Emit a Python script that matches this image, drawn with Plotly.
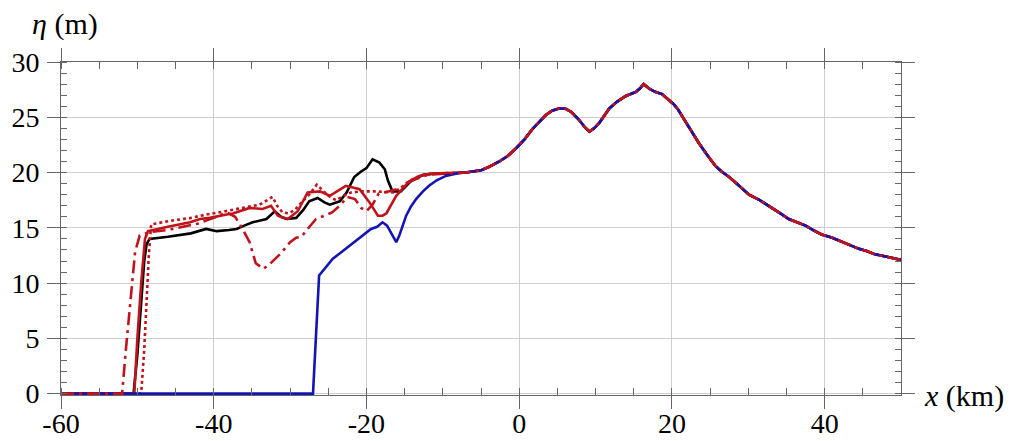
import plotly.graph_objects as go

# Common tail shared by all curves (x in km, eta in m)
common_x = [-8, -7, -5, -4, -2.6, -1.5, -0.4, 0.7, 1.7, 2.6, 3.5, 4.3, 5.2, 6.0, 6.8, 7.8, 8.6, 9.2,
            9.8, 10.5, 11.2, 11.8, 12.8, 13.9, 14.6, 15.3, 15.8, 16.3, 17.0, 17.8, 18.7, 19.5, 20.2,
            20.8, 21.8, 22.7, 23.5, 24.5, 25.7, 26.5, 27.5, 28.8, 30.1, 31.5, 32.7, 34, 35.3, 36.5,
            37.5, 38.5, 39.6, 41, 42, 43.1, 44.5, 45.5, 46.6, 48, 49.7, 50]
common_y = [19.95, 20.0, 20.2, 20.5, 21.0, 21.5, 22.2, 23.0, 23.9, 24.6, 25.2, 25.6, 25.8, 25.8, 25.5,
            24.8, 24.1, 23.7, 24.0, 24.5, 25.2, 25.8, 26.4, 26.9, 27.1, 27.3, 27.6, 28.0, 27.6, 27.3,
            27.1, 26.6, 26.2, 25.7, 24.6, 23.5, 22.7, 21.7, 20.6, 20.1, 19.6, 18.8, 18.0, 17.5, 17.0,
            16.4, 15.8, 15.5, 15.2, 14.8, 14.4, 14.1, 13.8, 13.5, 13.1, 12.9, 12.6, 12.4, 12.2, 12.1]

blue_x = [-60, -27.0, -26.2, -25.2, -24.4, -23.3, -22.2, -21.2, -20.0, -19.4, -18.6, -17.9, -17.3,
          -16.6, -16.1, -15.7, -15.2, -14.8, -14.2, -13.5, -12.6, -11.8, -10.8, -9.6]
blue_y = [0, 0, 10.7, 11.5, 12.2, 12.8, 13.4, 14.0, 14.6, 14.9, 15.1, 15.5, 15.2, 14.3, 13.7, 14.3,
          15.3, 16.1, 16.9, 17.6, 18.3, 18.8, 19.3, 19.7]

black_x = [-60, -50.5, -50.0, -49.5, -49.1, -48.8, -48.4, -46, -44.9, -43, -41, -39.6, -38, -37, -36,
           -34.9, -33.1, -32.0, -31.2, -30.5, -29.2, -28.3, -27.5, -26.4, -25.5, -24.8, -23.5, -22.6,
           -21.6, -20.7, -20.0, -19.2, -18.3, -17.6, -17.2, -16.6, -15.5, -14.2, -12.6, -11, -9.5]
black_y = [0, 0, 3.5, 8.6, 12.0, 13.5, 14.0, 14.2, 14.3, 14.5, 14.9, 14.7, 14.8, 14.9, 15.2, 15.5,
           15.8, 16.5, 16.0, 15.8, 15.9, 16.6, 17.4, 17.7, 17.3, 17.1, 17.4, 18.2, 19.6, 20.1, 20.4,
           21.2, 20.9, 20.3, 19.3, 18.3, 18.3, 19.2, 19.8, 19.9, 19.9]

red_x = [-60, -50.4, -50.0, -49.5, -49.0, -48.6, -46, -43.1, -41.8, -40.5, -38.3, -37.5, -35.3, -33.6,
         -32.5, -31.6, -30.3, -29.0, -27.7, -26.1, -24.8, -22.7, -20.9, -19.6, -18.5, -17.9, -17.4,
         -16.8, -16.1, -15.7, -14.4, -13.1, -11.5, -9.5]
red_y = [0, 0, 5, 10, 14.0, 14.7, 15.1, 15.5, 15.8, 15.9, 16.2, 16.3, 16.8, 16.7, 17.0, 16.1, 15.8,
         16.5, 18.2, 18.3, 17.9, 18.8, 18.5, 17.3, 16.1, 16.1, 16.3, 17.1, 17.9, 18.2, 19.2, 19.7,
         19.9, 19.95]

dot_x = [-60, -49.5, -49.1, -48.8, -48.5, -48.2, -46, -43, -41, -38.5, -36, -34, -33, -32.3, -31.7,
         -31, -30.2, -29.4, -28.5, -27.5, -26.5, -25.8, -25, -24, -23, -22, -20.5, -19, -17.5, -16.5,
         -15.5, -14.5, -13, -11.5, -9.5]
dot_y = [0, 0, 4, 8.6, 12.5, 15.3, 15.6, 15.9, 16.2, 16.5, 16.8, 17.1, 17.5, 17.8, 17.0, 16.4, 16.3,
         16.6, 17.3, 18.0, 18.9, 18.4, 17.9, 17.5, 17.9, 18.2, 18.3, 18.3, 18.2, 18.2, 18.6, 19.2,
         19.7, 19.9, 19.95]

dashdot_x = [-60, -52, -51.5, -50.9, -50.3, -49.7, -48.5, -46, -44, -42, -40, -38.3, -37.2, -36.3,
             -35.3, -34.5, -33.5, -32.7, -31.2, -30, -29.2, -28.5, -27.7, -26.6, -25.5, -24.5, -23.5,
             -22.5, -21.5, -20.7, -20, -19.2, -18.4, -17, -15.5, -14, -12, -10]
dashdot_y = [0, 0, 4, 8.6, 12.8, 14.3, 14.6, 14.8, 15.1, 15.4, 15.9, 16.4, 16.0, 15.0, 13.7, 11.8,
             11.3, 11.7, 12.7, 13.7, 14.1, 14.2, 14.9, 15.8, 16.1, 16.4, 17.0, 17.8, 17.6, 16.8, 16.5,
             17.1, 18.1, 18.3, 18.6, 19.3, 19.8, 19.9]

x_tickvals = [-60, -40, -20, 0, 20, 40]
x_ticktext = ["-60", "-40", "-20", "0", "20", "40"]
y_tickvals = [0, 5, 10, 15, 20, 25, 30]
y_ticktext = ["0", "5", "10", "15", "20", "25", "30"]

RED = "#c0141c"
BLUE = "#1414b4"

fig = go.Figure()

def add(xs, ys, color, dash, width=2.6):
    fig.add_trace(go.Scatter(x=xs + common_x, y=ys + common_y, mode="lines",
                             line=dict(color=color, width=width, dash=dash),
                             showlegend=False, hoverinfo="skip"))

add(black_x, black_y, "black", "solid")
add(red_x, red_y, RED, "solid")
add(dot_x, dot_y, RED, "3px,3px")
add(blue_x, blue_y, BLUE, "solid")
add(dashdot_x, dashdot_y, RED, "13px,5px,3px,5px")

FONT = "Liberation Serif"
axis_common = dict(
    showline=True, linecolor="#666", linewidth=1, mirror="ticks",
    ticks="outside", ticklen=13, tickcolor="#666", tickwidth=1,
    showgrid=True, gridcolor="#cfcfcf", gridwidth=1, zeroline=False,
    tickfont=dict(family=FONT, size=28, color="black"),
    automargin=False, tickmode="array",
)

fig.update_xaxes(range=[-60, 50], tickvals=x_tickvals, ticktext=x_ticktext,
                 ticklabelstandoff=-10,
                 minor=dict(dtick=5, tick0=-60, tickmode="linear", ticks="inside", ticklen=7,
                            tickcolor="#666", showgrid=False),
                 **axis_common)
fig.update_yaxes(range=[-0.12, 30], tickvals=y_tickvals, ticktext=y_ticktext,
                 ticklabelstandoff=2,
                 minor=dict(dtick=1, tick0=0, tickmode="linear", ticks="inside", ticklen=6,
                            tickcolor="#666", showgrid=False),
                 **axis_common)

fig.add_annotation(xref="paper", yref="paper", x=-0.037, y=1.114, xanchor="left", yanchor="middle",
                   text="<i>η</i> (m)", showarrow=False, font=dict(family=FONT, size=30, color="black"))
fig.add_annotation(xref="paper", yref="paper", x=1.025, y=-0.003, xanchor="left", yanchor="middle",
                   text="<i>x</i> (km)", showarrow=False, font=dict(family=FONT, size=30, color="black"))

fig.update_layout(width=1009, height=441, margin=dict(l=61, r=108, t=62, b=46),
                  plot_bgcolor="white", paper_bgcolor="white")

fig.write_html("out.html")
